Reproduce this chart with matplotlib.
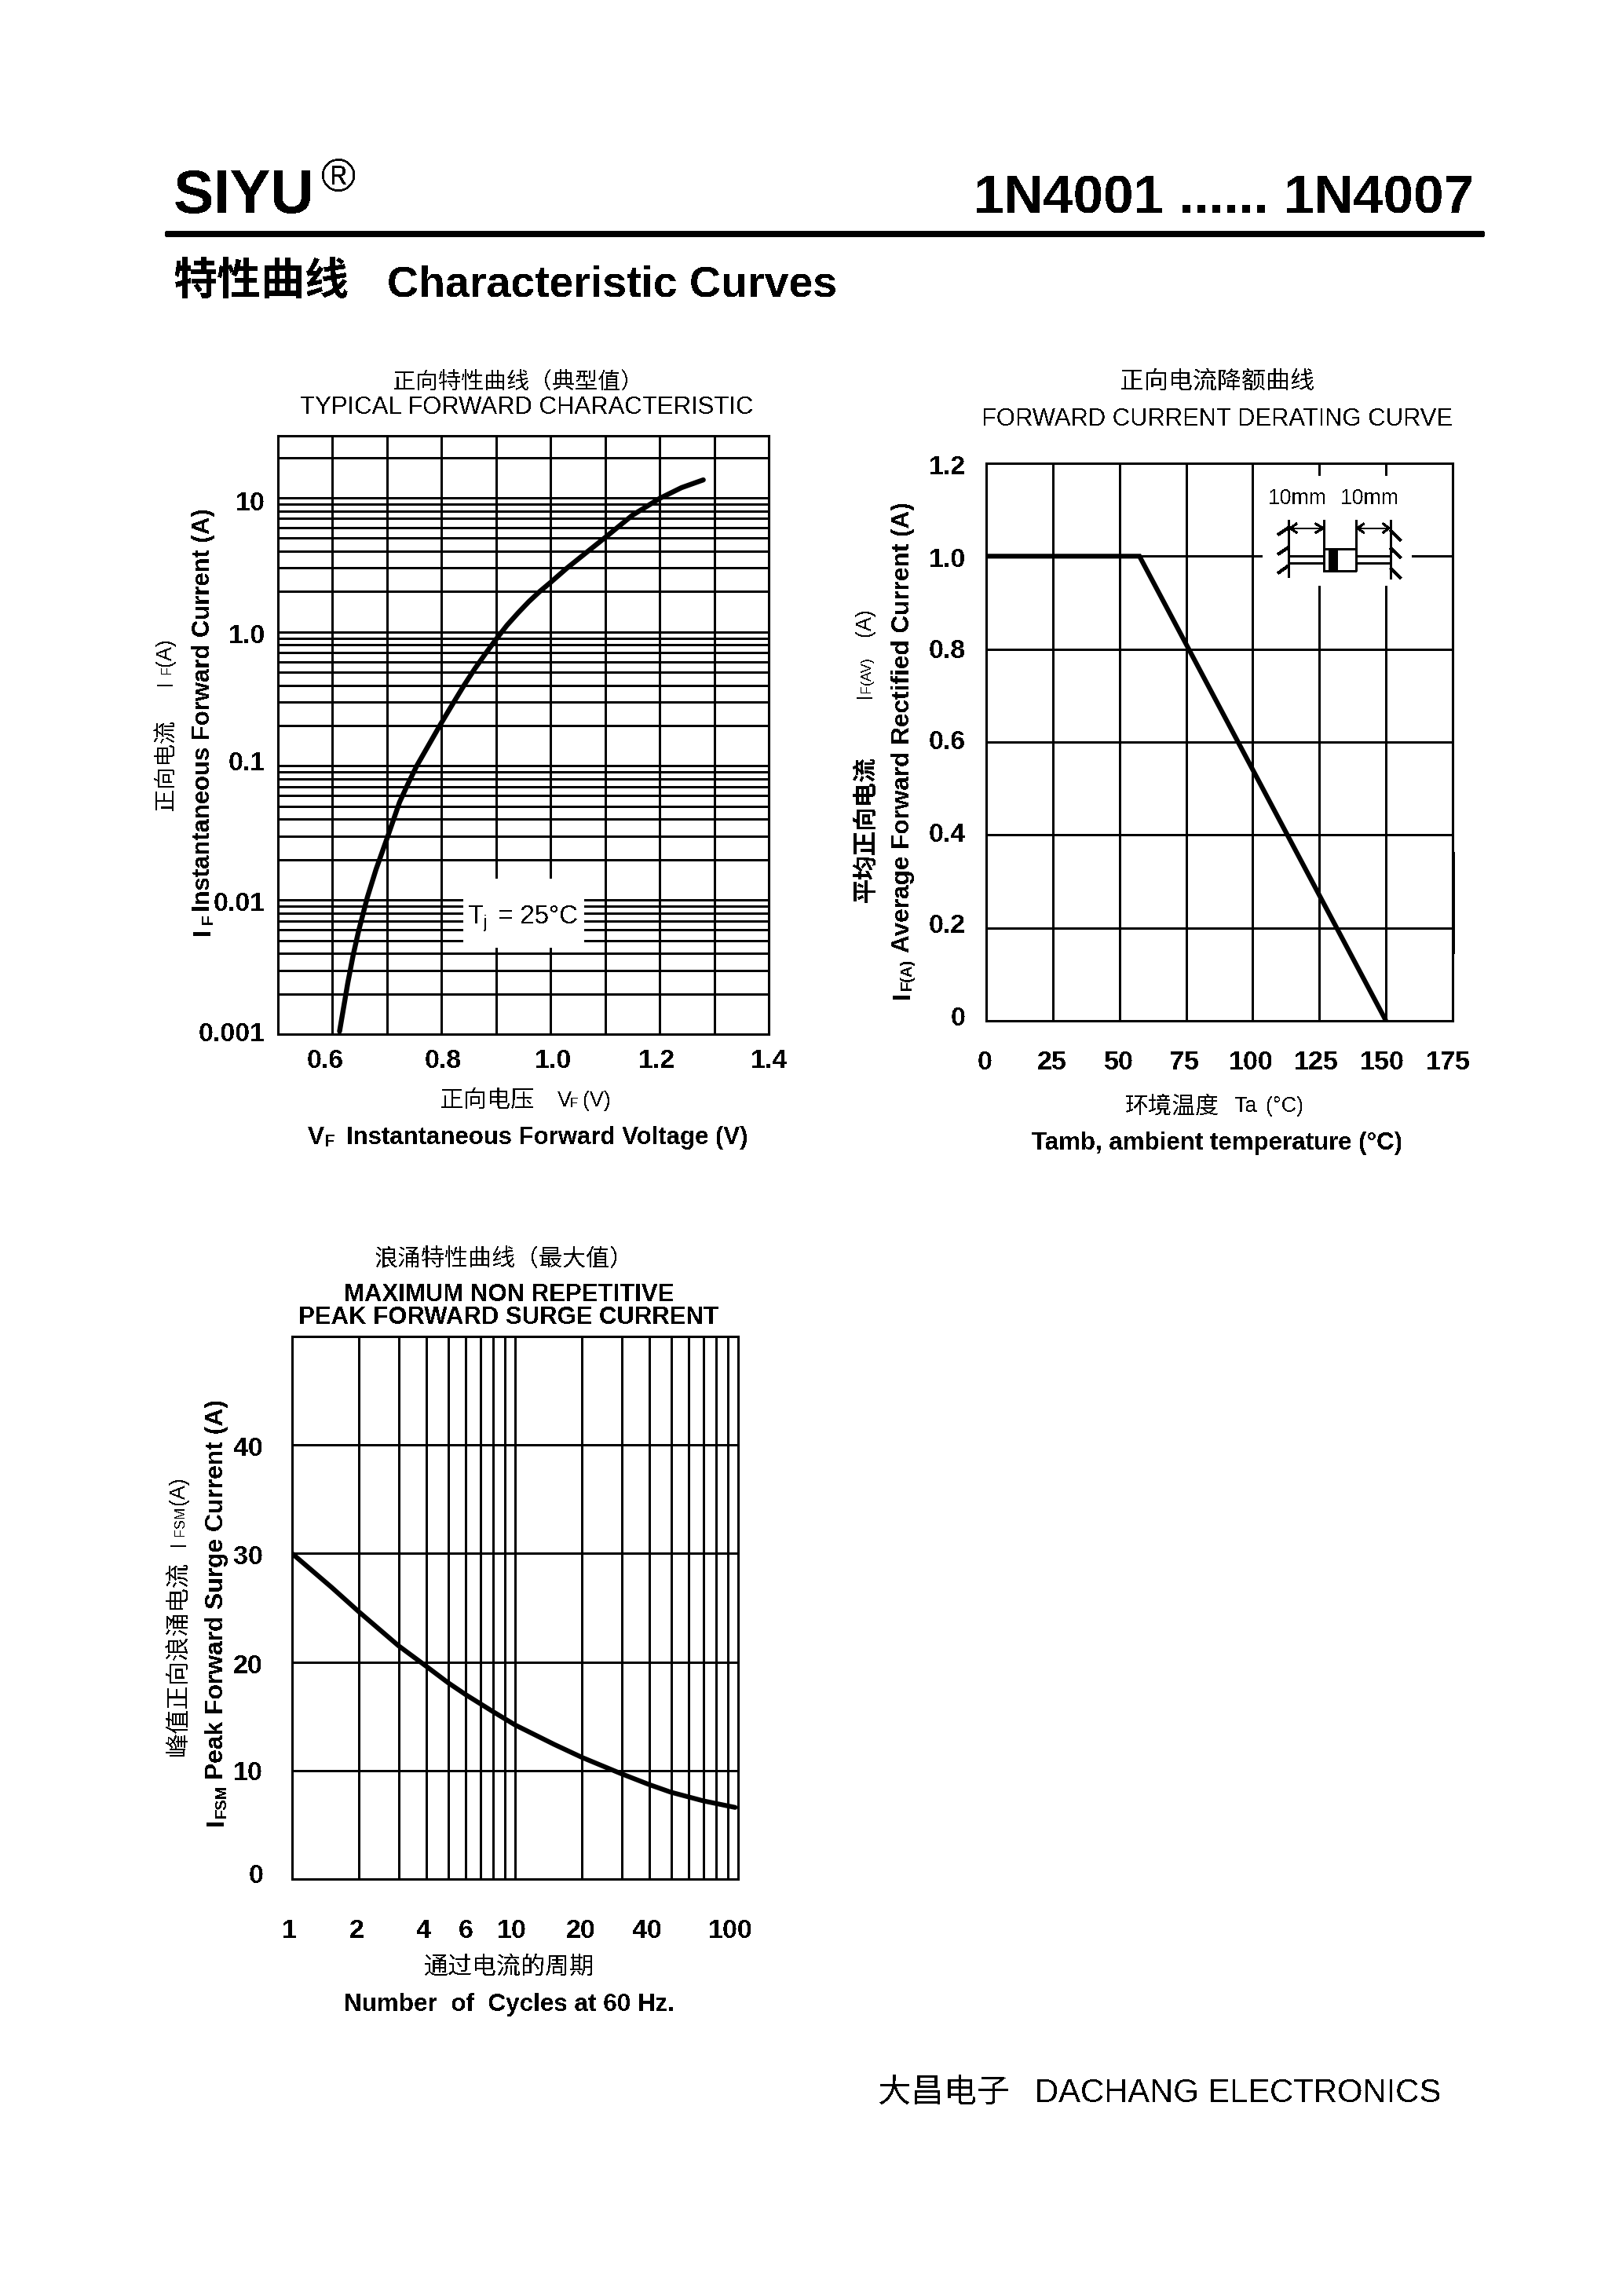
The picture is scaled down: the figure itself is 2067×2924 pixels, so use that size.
import matplotlib
matplotlib.use('Agg')
import matplotlib.pyplot as plt
from matplotlib.lines import Line2D
from matplotlib.patches import Rectangle
from matplotlib.ticker import NullFormatter
from matplotlib.transforms import Affine2D

plt.rcParams['font.family'] = ['Liberation Sans', 'Noto Sans CJK SC']
plt.rcParams['text.antialiased'] = False

W = 2067
H = 2924

# forward characteristic
vf_volts = [0.613, 0.628, 0.638, 0.648, 0.664, 0.68, 0.70, 0.723, 0.74, 0.755, 0.775, 0.798, 0.82, 0.841, 0.861,
            0.881, 0.9, 0.92, 0.94, 0.96, 0.98, 1.0, 1.03, 1.065, 1.102, 1.15, 1.2, 1.24, 1.28]
vf_amps = [0.00105, 0.0024, 0.0039, 0.0059, 0.0105, 0.017, 0.0288, 0.0537, 0.0759, 0.101, 0.14, 0.204, 0.288, 0.398, 0.531,
           0.692, 0.881, 1.12, 1.38, 1.68, 2.0, 2.34, 2.99, 3.89, 5.13, 7.41, 9.89, 11.9, 13.6]
vf_xticks = [0.6, 0.8, 1.0, 1.2, 1.4]
vf_xlabels = ['0.6', '0.8', '1.0', '1.2', '1.4']
vf_xminor = [0.7, 0.9, 1.1, 1.3]
vf_yticks = [0.001, 0.01, 0.1, 1, 10]
vf_ylabels = ['0.001', '0.01', '0.1', '1.0', '10']
vf_yminor = [m * d for d in [0.001, 0.01, 0.1, 1] for m in range(2, 10)] + [20]

# derating
temp_c = [0, 57.5, 150]
rect_amps = [1.0, 1.0, 0]
temp_ticks = [0, 25, 50, 75, 100, 125, 150, 175]
rect_ticks = [0, 0.2, 0.4, 0.6, 0.8, 1.0, 1.2]
rect_labels = ['0', '0.2', '0.4', '0.6', '0.8', '1.0', '1.2']

# surge
cycles = [1, 1.5, 2, 3, 4, 5, 6, 8, 10, 15, 20, 30, 40, 50, 70, 97]
surge_amps = [30, 26.9, 24.6, 21.5, 19.6, 18.1, 17.0, 15.4, 14.2, 12.4, 11.2, 9.7, 8.7, 8.0, 7.2, 6.6]
cycle_ticks = [1, 2, 4, 6, 10, 20, 40, 100]
cycle_minor = [3, 5, 7, 8, 9, 30, 50, 60, 70, 80, 90]
surge_ticks = [0, 10, 20, 30, 40]

fig = plt.figure(figsize=(W / 100, H / 100), dpi=100)
# everything outside the axes is placed in reference pixels
px = Affine2D().scale(1, -1).translate(0, H)


def txt(x, y, s, size, weight='normal', rot=0, ha='center'):
    if rot:
        x += 3
    else:
        y += 3
    fig.text(x, y, s, transform=px, fontsize=size * 0.72, fontweight=weight,
             rotation=rot, ha=ha, va='center', color='black')


def seg(x0, y0, x1, y1, lw=3, cap='butt'):
    fig.add_artist(Line2D([x0, x1], [y0, y1], transform=px, color='black', lw=lw * 0.72,
                          solid_capstyle=cap, antialiased=False))


def make_axes(left, top, right, bottom):
    ax = fig.add_axes([left / W, 1 - bottom / H, (right - left) / W, (bottom - top) / H])
    for s in ax.spines.values():
        s.set_linewidth(2.2)
    return ax


def finish_axes(ax, x_shift, x_dy, y_shift, y_right):
    ax.tick_params(which='both', length=0, pad=0, labelsize=24.5, labelcolor='black')
    ax.grid(True, which='both', color='black', lw=1.9, antialiased=False)
    ax.set_axisbelow(True)
    ax.xaxis.set_minor_formatter(NullFormatter())
    ax.yaxis.set_minor_formatter(NullFormatter())
    for lab, dx in zip(ax.get_xticklabels(), x_shift):
        lab.set_fontweight('bold')
        lab.set_va('center')
        lab.set_transform(lab.get_transform() + Affine2D().translate(dx, -x_dy - 3))
    for lab, dy in zip(ax.get_yticklabels(), y_shift):
        lab.set_fontweight('bold')
        lab.set_va('center')
        lab.set_transform(lab.get_transform() + Affine2D().translate(-y_right, -dy - 3))


# header
txt(221, 248, 'SIYU', 77, 'bold', ha='left')
txt(431, 226, '\u00ae', 60)
txt(1877, 250, '1N4001 ...... 1N4007', 69, 'bold', ha='right')
seg(214, 298, 1887, 298, lw=8, cap='round')
txt(333, 358, '特性曲线', 56, 'bold')
txt(493, 360, 'Characteristic Curves', 55.5, 'bold', ha='left')

# forward characteristic
ax1 = make_axes(354, 555, 979, 1317)
ax1.set_yscale('log')
ax1.set_xlim(0.5, 1.4)
ax1.set_ylim(0.001, 29)
ax1.set_xticks(vf_xticks, vf_xlabels)
ax1.set_xticks(vf_xminor, minor=True)
ax1.set_yticks(vf_yticks, vf_ylabels)
ax1.set_yticks(vf_yminor, minor=True)
finish_axes(ax1, [-9, 2, 3, -4, 0], 32, [-3, 2, -6, 3, 5], 16)
ax1.plot(vf_volts, vf_amps, color='black', lw=4.6, solid_capstyle='round')

# white label box, grid lines stop around it
fig.add_artist(Rectangle((590, 1119), 154, 88, transform=px, facecolor='white', edgecolor='none', zorder=2))
txt(596, 1164, 'T', 33, ha='left')
txt(616, 1172, 'j', 22, ha='left')
txt(634, 1164, '= 25°C', 33, ha='left')

txt(660, 484, '正向特性曲线（典型值）', 29)
txt(671, 516, 'TYPICAL FORWARD CHARACTERISTIC', 31.2)
txt(209, 974, '正向电流', 29, rot=90)
txt(207, 869, 'I', 29, rot=90)
txt(210, 852, 'F', 18, rot=90)
txt(207, 830, '(A)', 27, rot=90)
txt(256, 904, 'Instantaneous Forward Current (A)', 31, 'bold', rot=90)
txt(256, 1187, 'I', 31, 'bold', rot=90)
txt(262, 1171, 'F', 21, 'bold', rot=90)
txt(620, 1399, '正向电压', 30)
txt(719, 1399, 'V', 27)
txt(731, 1403, 'F', 17)
txt(760, 1399, '(V)', 27)
txt(402, 1446, 'V', 31.5, 'bold')
txt(420, 1452, 'F', 22, 'bold')
txt(441, 1446, 'Instantaneous Forward Voltage (V)', 31.2, 'bold', ha='left')

# derating
ax2 = make_axes(1256, 590, 1850, 1300)
ax2.set_xlim(0, 175)
ax2.set_ylim(0, 1.2)
ax2.set_xticks(temp_ticks)
ax2.set_yticks(rect_ticks, rect_labels)
finish_axes(ax2, [-2, -1, -1, -2, -2, -4, -5, -6], 50, [-5, -5, -3, -2, 0, 2, 2], 26)
ax2.plot(temp_c, rect_amps, color='black', lw=4.4, solid_capstyle='butt', solid_joinstyle='miter')

# mounting sketch over the grid
fig.add_artist(Rectangle((1608, 606), 190, 140, transform=px, facecolor='white', edgecolor='none', zorder=2))
txt(1652, 632, '10mm', 26.6)
txt(1744, 632, '10mm', 26.6)
sketch = [
    (184, 185, 184, 405), (143, 243, 184, 215), (143, 318, 184, 290), (143, 390, 184, 360),
    (572, 185, 572, 410), (572, 225, 612, 265), (572, 293, 612, 332), (572, 370, 612, 410),
    (318, 185, 318, 385), (441, 185, 441, 382), (318, 298, 441, 298), (318, 382, 441, 382),
    (184, 325, 318, 325), (184, 352, 318, 352), (441, 325, 572, 325), (441, 352, 572, 352),
]
arrows = [
    (190, 218, 315, 218), (190, 218, 215, 200), (190, 218, 215, 236), (315, 218, 285, 200), (315, 218, 285, 236),
    (447, 218, 567, 218), (447, 218, 472, 200), (447, 218, 472, 236), (567, 218, 543, 200), (567, 218, 543, 236),
]
for x0, y0, x1, y1 in sketch:
    seg(1580 + x0 / 3, 600 + y0 / 3, 1580 + x1 / 3, 600 + y1 / 3, lw=3)
for x0, y0, x1, y1 in arrows:
    seg(1580 + x0 / 3, 600 + y0 / 3, 1580 + x1 / 3, 600 + y1 / 3, lw=2)
fig.add_artist(Rectangle((1692, 699), 12, 28, transform=px, facecolor='black', edgecolor='none', zorder=3))
seg(1851, 1085, 1851, 1214, lw=3)

txt(1550, 484, '正向电流降额曲线', 31)
txt(1550, 531, 'FORWARD CURRENT DERATING CURVE', 31)
txt(1101, 1056, '平均正向电流', 31, 'bold', rot=90)
txt(1098, 885, 'I', 29, rot=90)
txt(1101, 859, 'F(AV)', 18, rot=90)
txt(1098, 792, '(A)', 27, rot=90)
txt(1147, 926, 'Average Forward Rectified Current (A)', 31.5, 'bold', rot=90)
txt(1147, 1268, 'I', 31, 'bold', rot=90)
txt(1152, 1241, 'F(A)', 20, 'bold', rot=90)
txt(1493, 1406, '环境温度', 30)
txt(1587, 1406, 'Ta', 27)
txt(1636, 1406, '(°C)', 27)
txt(1550, 1453, 'Tamb, ambient temperature (°C)', 31.3, 'bold')

# surge
ax3 = make_axes(372, 1702, 940, 2393)
ax3.set_xscale('log')
ax3.set_xlim(1, 100)
ax3.set_ylim(0, 50)
ax3.set_xticks(cycle_ticks, [str(c) for c in cycle_ticks])
ax3.set_xticks(cycle_minor, minor=True)
ax3.set_yticks(surge_ticks)
finish_axes(ax3, [-4, -3, -3, 0, -4, -2, -3, -10], 64, [-7, 1, 3, 2, 2], 37)
ax3.plot(cycles, surge_amps, color='black', lw=4.4, solid_capstyle='round')

txt(642, 1601, '浪涌特性曲线（最大值）', 30)
txt(648, 1646, 'MAXIMUM NON REPETITIVE', 31.2, 'bold')
txt(648, 1675, 'PEAK FORWARD SURGE CURRENT', 31.2, 'bold')
txt(225, 2112, '峰值正向浪涌电流', 31, rot=90)
txt(224, 1965, 'I', 29, rot=90)
txt(227, 1937, 'FSM', 18, rot=90)
txt(224, 1898, '(A)', 27, rot=90)
txt(273, 2024, 'Peak Forward Surge Current (A)', 31.8, 'bold', rot=90)
txt(273, 2321, 'I', 31, 'bold', rot=90)
txt(279, 2294, 'FSM', 20, 'bold', rot=90)
txt(648, 2503, '通过电流的周期', 31)
txt(648, 2550, 'Number  of  Cycles at 60 Hz.', 31.4, 'bold')

# footer
txt(1202, 2663, '大昌电子', 42)
txt(1318, 2663, 'DACHANG ELECTRONICS', 41.7, ha='left')

fig.savefig('out.png', dpi=100)
